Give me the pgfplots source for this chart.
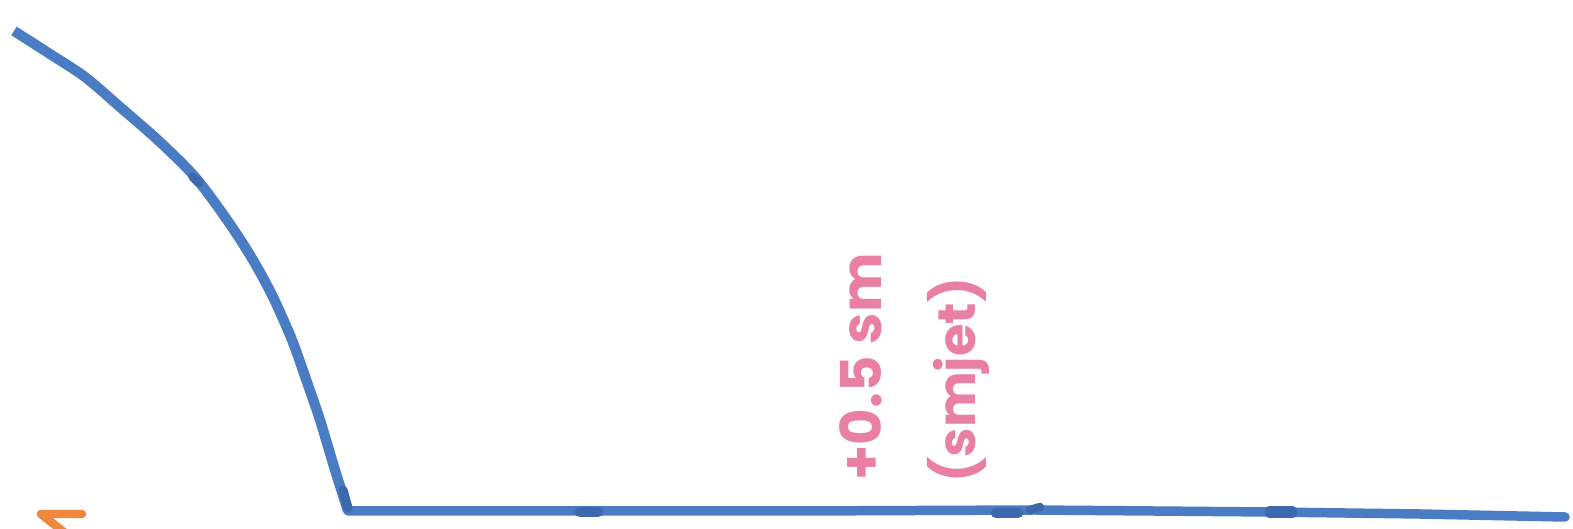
\documentclass[border=0pt]{standalone}
\usepackage{fontspec}
\setmainfont{Poppins}[BoldFont={* Bold}]
\usepackage{pgfplots}
\pgfplotsset{compat=1.18}
\definecolor{penblue}{HTML}{4A7CC4}
\definecolor{darkblue}{HTML}{3D68AE}
\definecolor{penpink}{HTML}{E97FA3}
\definecolor{penorange}{HTML}{F0873F}
\begin{document}
\begin{tikzpicture}
\useasboundingbox (0,0) rectangle (15.73cm,5.29cm);
\begin{axis}[
    at={(0,0)},
    anchor=south west,
    scale only axis,
    width=15.73cm,
    height=5.29cm,
    xmin=0, xmax=1573,
    ymin=0, ymax=529,
    y dir=reverse,
    hide axis,
    clip=true,
]
    % falling part
    \addplot[penblue, line width=2.9pt, smooth, tension=0.5] coordinates {
        (14,31) (50,54) (85,77) (120,107) (160,142) (195,177) (225,217)
        (250,255) (272,295) (292,340) (308,385) (320,420) (335,470) (348,511)
    };
    % flat part
    \addplot[penblue, line width=2.7pt, line cap=round] coordinates {
        (348,511) (600,511) (800,511) (1035,510) (1270,512) (1420,514) (1565,517)
    };
    % heavier pen spots
    \addplot[darkblue, line width=3pt, line cap=round] coordinates {(580,512) (598,512)};
    \addplot[darkblue, line width=3pt, line cap=round] coordinates {(996,513) (1018,513)};
    \addplot[darkblue, line width=2.4pt, line cap=round] coordinates {(1030,510) (1040,507)};
    \addplot[darkblue, line width=3.2pt, line cap=round] coordinates {(1270,512) (1292,512)};
    \addplot[darkblue, line width=2.6pt, line cap=round] coordinates {(193,177) (199,183)};
    \addplot[darkblue, line width=2.6pt, line cap=round] coordinates {(343,490) (348,508)};
    % orange fragment, runs off the bottom
    \addplot[penorange, line width=2.4pt, line join=round, line cap=round] coordinates {
        (82,514) (41,514) (70,537)
    };
    \node[rotate=90, text=penpink, font=\fontsize{16}{16}\selectfont\bfseries, inner sep=0pt]
        at (axis cs:861,367) {+0.5 sm};
    \node[rotate=90, text=penpink, font=\fontsize{15}{15}\selectfont\bfseries, inner sep=0pt]
        at (axis cs:958,380) {(smjet)};
\end{axis}
\end{tikzpicture}
\end{document}
